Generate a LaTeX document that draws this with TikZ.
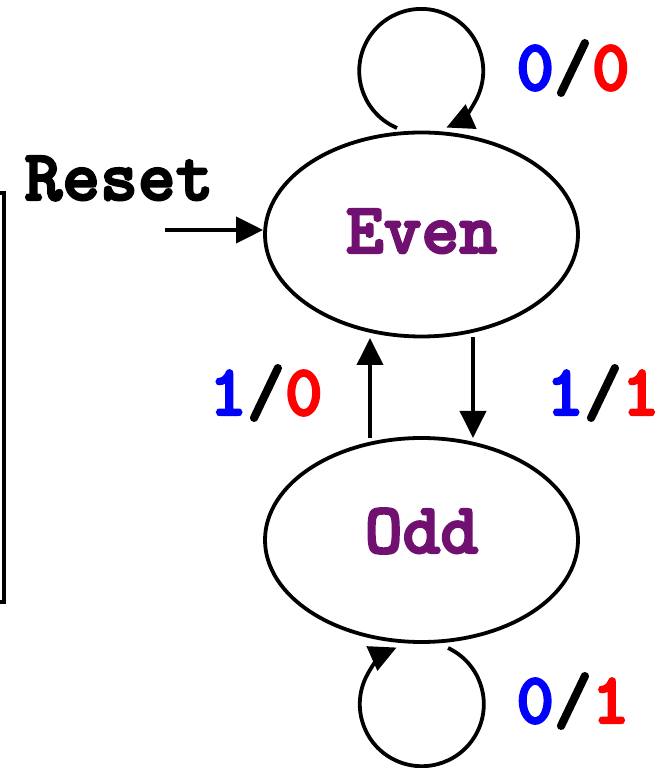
\documentclass[tikz,border=0pt]{standalone}
\usepackage{fontspec}
\newfontfamily\boldmono{lmmonolt10-bold.otf}[FakeBold=3]
\usetikzlibrary{shapes.geometric,arrows.meta}
\definecolor{statepurple}{RGB}{112,16,112}
\definecolor{inblue}{RGB}{0,0,255}
\definecolor{outred}{RGB}{255,0,0}
\tikzset{
  x=1pt, y=1pt,
  every node/.style={font=\boldmono\fontsize{72}{80}\selectfont, inner sep=0pt},
  statebox/.style={draw, ellipse, line width=3.8pt, minimum width=313pt, minimum height=204pt,
    text=statepurple, text depth=0pt},
  arr/.style={line width=3.8pt, -{Triangle[length=27pt,width=26pt]}},
  edgelabel/.style={anchor=base},
}
\newcommand{\io}[2]{\textcolor{inblue}{#1}/\textcolor{outred}{#2}}
\begin{document}
\begin{tikzpicture}
\useasboundingbox (0,0) rectangle (665,768);

% states
\node[statebox, text height=37pt] (even) at (421.5,533.5) {Even};
\node[statebox, text height=26pt] (odd) at (421.5,228) {Odd};

% reset entry
\node[edgelabel] (reset) at (119,568) {Reset};
\coordinate (rstart) at (165,538);
\draw[arr] (rstart) -- (rstart -| even.west);

% transitions between states
\coordinate (upstart) at (370,330);
\coordinate (upend) at (370,430);
\coordinate (downstart) at (473,431);
\coordinate (downend) at (473,330);
\draw[arr] (upstart) -- (upend);
\draw[arr] (downstart) -- (downend);

% self loops
\coordinate (evenloop) at (397,640);
\draw[arr] (evenloop) arc[start angle=247, end angle=-66, radius=62];
\coordinate (oddloop) at (448,120);
\draw[arr] (oddloop) arc[start angle=65, end angle=-246, radius=62];

% transition labels
\node[edgelabel] (l00) at (573,678) {\io{0}{0}};
\node[edgelabel] (l10) at (266,353) {\io{1}{0}};
\node[edgelabel] (l11) at (603,353) {\io{1}{1}};
\node[edgelabel] (l01) at (573,45) {\io{0}{1}};

% bracket on the left edge
\draw[line width=3.6pt] (0,575) -- (4,575) -- (4,166) -- (0,166);
\end{tikzpicture}
\end{document}
